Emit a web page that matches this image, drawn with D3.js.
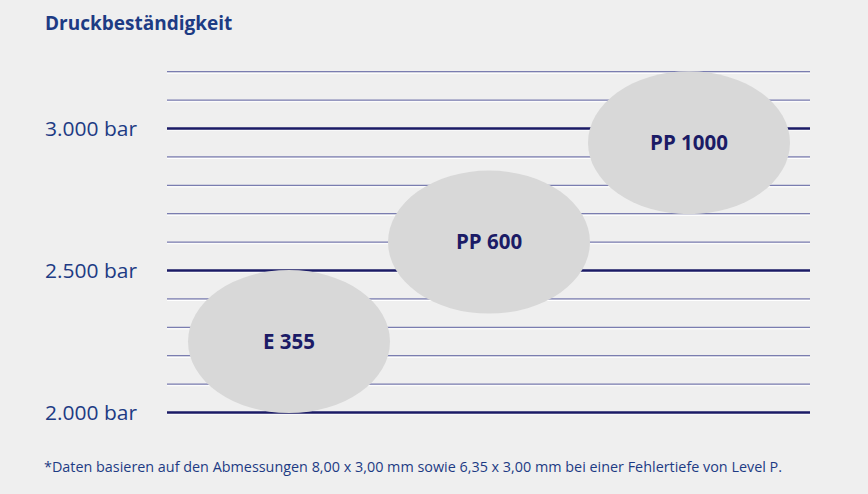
<!DOCTYPE html>
<html lang="de">
<head>
<meta charset="UTF-8">
<title>Druckbeständigkeit</title>
<style>
  html, body { margin: 0; padding: 0; background: #efefef; }
  svg { display: block; font-family: "Open Sans", "Noto Sans", sans-serif; }
</style>
</head>
<body>
<div id="wrapper"></div>
<script src="https://d3js.org/d3.v7.min.js"></script>
<script>
  // Daten
  const categories = ['E 355', 'PP 600', 'PP 1000'];
  const lowValues = [2000, 2350, 2700];   // untere Grenze (bar)
  const highValues = [2500, 2850, 3200];  // obere Grenze (bar)
  const gridValues = [2000, 2100, 2200, 2300, 2400, 2500, 2600, 2700, 2800, 2900, 3000, 3100, 3200];
  const tickValues = [2000, 2500, 3000];
  const tickLabels = ['2.000 bar', '2.500 bar', '3.000 bar'];

  const width = 868;
  const height = 494;
  const navy = '#1b1b66';
  const blue = '#1d3b84';

  const svg = d3.select('#wrapper').append('svg')
    .attr('width', width)
    .attr('height', height);

  svg.append('rect').attr('width', width).attr('height', height).attr('fill', '#efefef');

  // Skalen
  const y = d3.scaleLinear().domain([2000, 3200]).range([412.5, 71.7]);
  const x = d3.scaleBand().domain(categories).range([189, 789]).padding(0);

  // Titel
  svg.append('text')
    .attr('x', 45).attr('y', 30)
    .attr('fill', blue)
    .attr('font-size', 19)
    .attr('font-weight', 700)
    .text('Druckbeständigkeit');

  // Gitterlinien
  const grid = svg.append('g');
  grid.selectAll('line.shadow')
    .data(gridValues)
    .enter().append('line')
    .attr('class', 'shadow')
    .attr('x1', 167).attr('x2', 810)
    .attr('y1', d => y(d) + 1.6).attr('y2', d => y(d) + 1.6)
    .attr('stroke', '#ffffff')
    .attr('stroke-width', 1);
  grid.selectAll('line.grid')
    .data(gridValues)
    .enter().append('line')
    .attr('class', 'grid')
    .attr('x1', 167).attr('x2', 810)
    .attr('y1', d => y(d)).attr('y2', d => y(d))
    .attr('stroke', d => tickValues.includes(d) ? navy : '#7a7db0')
    .attr('stroke-width', d => tickValues.includes(d) ? 2.4 : 1.3);

  // Achsenbeschriftung
  svg.selectAll('text.tick')
    .data(tickValues)
    .enter().append('text')
    .attr('class', 'tick')
    .attr('x', 45)
    .attr('y', d => y(d))
    .attr('dy', '0.35em')
    .attr('fill', blue)
    .attr('font-size', 20.5)
    .attr('textLength', 92)
    .attr('lengthAdjust', 'spacingAndGlyphs')
    .text((d, i) => tickLabels[i]);

  // Ellipsen
  const items = categories.map((c, i) => ({ name: c, low: lowValues[i], high: highValues[i] }));
  const g = svg.selectAll('g.item')
    .data(items)
    .enter().append('g')
    .attr('class', 'item');

  g.append('ellipse')
    .attr('cx', d => x(d.name) + x.bandwidth() / 2)
    .attr('cy', d => y((d.low + d.high) / 2))
    .attr('rx', x.bandwidth() / 2 + 1)
    .attr('ry', d => (y(d.low) - y(d.high)) / 2 + 0.5)
    .attr('fill', '#d8d8d8');

  g.append('text')
    .attr('x', d => x(d.name) + x.bandwidth() / 2)
    .attr('y', d => y((d.low + d.high) / 2))
    .attr('dy', '0.36em')
    .attr('text-anchor', 'middle')
    .attr('fill', navy)
    .attr('font-size', 20.5)
    .attr('font-weight', 700)
    .text(d => d.name);

  // Fußnote
  svg.append('text')
    .attr('x', 44).attr('y', 472)
    .attr('fill', blue)
    .attr('font-size', 14)
    .attr('textLength', 738)
    .attr('lengthAdjust', 'spacingAndGlyphs')
    .text('*Daten basieren auf den Abmessungen 8,00 x 3,00 mm sowie 6,35 x 3,00 mm bei einer Fehlertiefe von Level P.');
</script>
</body>
</html>
